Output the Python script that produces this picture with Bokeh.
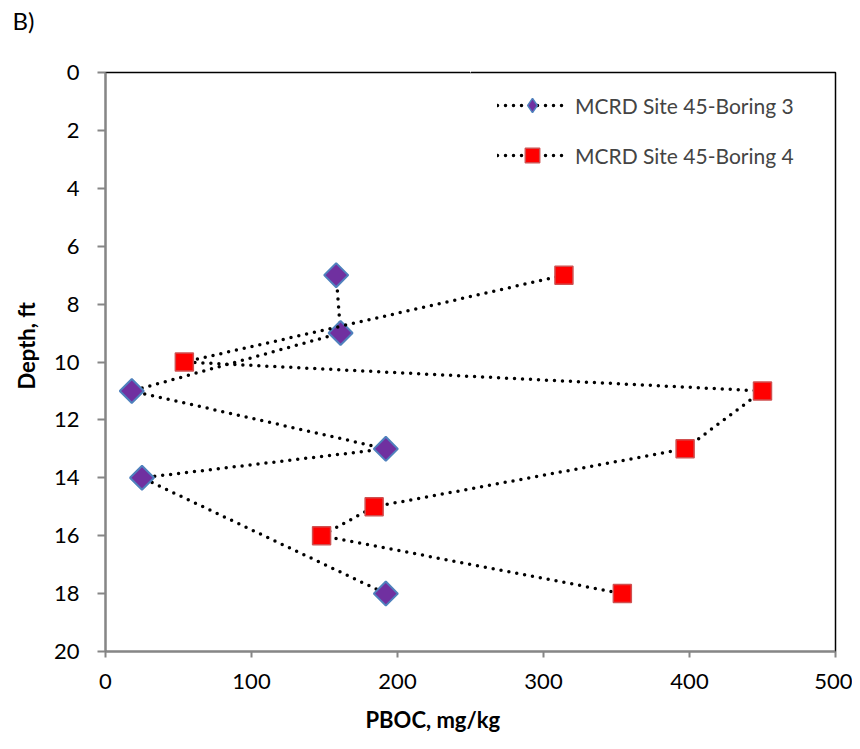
import math
from bokeh.plotting import figure
from bokeh.models import Range1d, FixedTicker, Legend, LegendItem, Title, LinearAxis
from bokeh.embed import file_html
from bokeh.resources import INLINE

# Data
b3_pboc = [158, 161, 18, 192, 25, 192]
b3_depth = [7, 9, 11, 13, 14, 18]
b4_pboc = [314, 54, 450, 397, 184, 148, 354]
b4_depth = [7, 10, 11, 13, 15, 16, 18]
series_names = ["MCRD Site 45-Boring 3", "MCRD Site 45-Boring 4"]
x_ticks = [0, 100, 200, 300, 400, 500]
y_ticks = [0, 2, 4, 6, 8, 10, 12, 14, 16, 18, 20]

FONT = "Lato"

p = figure(width=852, height=749, output_backend="svg", toolbar_location=None,
           x_range=Range1d(0, 500), y_range=Range1d(20, 0),
           min_border_left=103, min_border_right=17, min_border_top=72, min_border_bottom=98)
p.grid.visible = False
p.outline_line_color = "black"
p.outline_line_width = 1.5
p.background_fill_color = "white"
p.border_fill_color = "white"

for ax in (p.xaxis[0], p.yaxis[0]):
    ax.axis_line_color = "#868686"
    ax.axis_line_width = 2
    ax.major_tick_line_color = "#868686"
    ax.major_tick_line_width = 2
    ax.minor_tick_line_color = None
    ax.major_tick_in = 0
    ax.major_label_text_font = FONT
    ax.major_label_text_font_size = "22px"
    ax.major_label_text_color = "black"

p.xaxis.ticker = FixedTicker(ticks=x_ticks)
p.yaxis.ticker = FixedTicker(ticks=y_ticks)
p.xaxis.major_tick_out = 6
p.yaxis.major_tick_out = 8
p.xaxis.major_label_standoff = 16
p.yaxis.major_label_standoff = 18

# blank strip above the frame (white tick on white), lifting the panel letter to the top
spacer = LinearAxis(ticker=FixedTicker(ticks=[250]), major_label_overrides={250: ""},
                    axis_line_color=None, major_tick_line_color="white",
                    major_tick_line_width=1, minor_tick_line_color=None,
                    major_tick_in=0, major_tick_out=33, minor_tick_in=0, minor_tick_out=0,
                    major_label_standoff=0, major_label_text_font_size="1px")
p.add_layout(spacer, "above")
# panel letter, top-left
p.add_layout(Title(text="B)", align="left", offset=-93, standoff=6, vertical_align="top",
                   text_font=FONT, text_font_size="24px", text_font_style="normal",
                   text_color="black"), "above")
# axis titles, offset from centre like the original
p.add_layout(Title(text="PBOC, mg/kg", align="left", offset=260, standoff=25,
                   vertical_align="bottom", text_font=FONT, text_font_size="22px",
                   text_font_style="bold", text_color="black"), "below")
p.add_layout(Title(text="Depth, ft", align="left", offset=262, standoff=21,
                   vertical_align="bottom", text_font=FONT, text_font_size="22px",
                   text_font_style="bold", text_color="black"), "left")

l3 = p.line(b3_pboc, b3_depth, line_color="black", line_width=3.5,
            line_dash="0 8", line_cap="round")
# legend glyph (diamond), hidden under the plotted markers
k3 = p.scatter(b3_pboc, b3_depth, marker="diamond", size=16,
               fill_color="#7030A0", line_color="#4F81BD", line_width=1.5)
m3 = p.scatter(b3_pboc, b3_depth, marker="square", size=17, angle=math.pi / 4,
               fill_color="#7030A0", line_color="#4F81BD", line_width=2)
l4 = p.line(b4_pboc, b4_depth, line_color="black", line_width=3.5,
            line_dash="0 8", line_cap="round")
m4 = p.scatter(b4_pboc, b4_depth, marker="square", size=18,
               fill_color="#FF0000", line_color="#D05050", line_width=1.5)

legend = Legend(items=[LegendItem(label=series_names[0], renderers=[l3, k3]),
                       LegendItem(label=series_names[1], renderers=[l4, m4])],
                location=(392, 478), border_line_color=None, background_fill_alpha=0,
                label_text_font=FONT, label_text_font_size="21px",
                glyph_width=70, glyph_height=36, spacing=14, padding=0,
                margin=0, label_standoff=8)
p.add_layout(legend)

open("out.html", "w").write(file_html(p, INLINE))
